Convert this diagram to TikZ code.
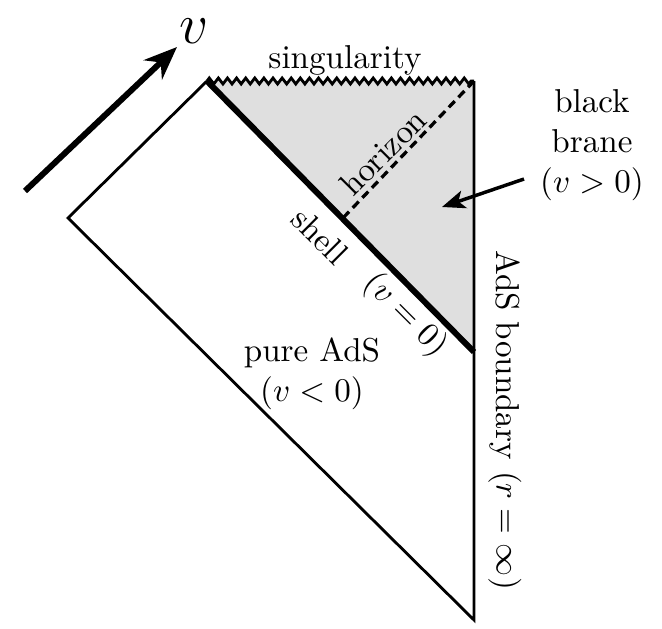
\documentclass[tikz,border=0pt]{standalone}
\usetikzlibrary{decorations.pathmorphing,arrows.meta}
\begin{document}
\begin{tikzpicture}[x=0.302pt,y=-0.302pt,
  thinline/.style={line width=0.85pt,line join=miter},
  thickline/.style={line width=1.8pt},
  lbl/.style={inner sep=0pt,align=center}]
\useasboundingbox (0,0) rectangle (662,629);
\coordinate (TL) at (207,81);
\coordinate (TR) at (474,81);
\coordinate (M) at (474,352);
\coordinate (L) at (68,218);
\coordinate (B) at (474,620);
\coordinate (H) at (343,218);
\fill[gray!25] (TL) -- (TR) -- (M) -- cycle;
\draw[thinline,decorate,decoration={zigzag,segment length=2.75pt,amplitude=0.9pt}] (TL) -- (TR);
\draw[thinline] (TL) -- (L) -- (B) -- (TR);
\draw[line width=1pt,dash pattern=on 2.6pt off 1.6pt] (TR) -- (H);
\draw[thickline,line cap=butt] (TL) -- (M);
% v arrow
\coordinate (va) at (25,191);
\coordinate (vb) at (177,47);
\draw[line width=1.8pt,-{Stealth[length=10pt,width=8pt]}] (va) -- (vb);
\node[lbl] (v) at (194,31) {\LARGE$v$};
\node[lbl] (sing) at (345,60) {singularity};
\node[lbl,rotate=45] (hor) at (383,152) {horizon};
\node[lbl] (bb) at (592,145) {black\\brane\\$(v>0)$};
\coordinate (ba) at (524,179);
\coordinate (bt) at (442,207);
\draw[line width=1.05pt,-{Stealth[length=7pt,width=5.5pt,inset=1.8pt]}] (ba) -- (bt);
\node[lbl,rotate=-45] (shell) at (320,236) {shell};
\node[lbl,rotate=-45] (v0) at (405,315) {$(v=0)$};
\node[lbl] (pure) at (312,374) {pure AdS\\$(v<0)$};
\node[lbl,rotate=-90] (bdy) at (505,420) {AdS boundary $(r=\infty)$};
\end{tikzpicture}
\end{document}
